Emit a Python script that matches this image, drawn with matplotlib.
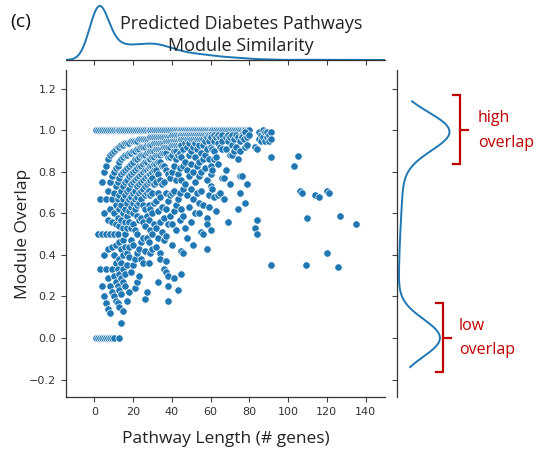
import numpy as np
import matplotlib
matplotlib.use("Agg")
import matplotlib.pyplot as plt
import matplotlib.transforms as mtransforms
import seaborn as sns

# modules with overlap exactly 1.0 -- pathway length and how many modules share it
full_overlap_x = [1, 2, 3, 4, 5, 6, 7, 8, 9, 10, 11, 12, 13, 14, 15, 16, 17, 18, 19, 20,
                  21, 22, 23, 24, 25, 26, 27, 28, 29, 30, 31, 32, 33, 34, 35, 36, 37, 38, 39, 40,
                  41, 42, 43, 44, 45, 46, 47, 48, 49, 50, 51, 52, 53, 54, 55, 56, 57, 58, 59, 60,
                  61, 62, 63, 64, 65, 66, 67, 68, 69, 70, 71, 72, 73, 74, 75, 76, 77, 78, 79, 80]
full_overlap_n = [60, 50, 40, 30, 20, 28, 28, 27, 27, 27, 26, 26, 26, 26, 26, 26, 26, 26, 26, 26,
                  27, 27, 28, 28, 29, 30, 31, 32, 32, 33, 33, 32, 32, 31, 30, 29, 27, 25, 23, 21,
                  19, 18, 17, 16, 15, 14, 13, 12, 12, 11, 11, 10, 10, 9, 9, 8, 8, 8, 7, 7,
                  6, 6, 6, 5, 5, 5, 5, 4, 4, 4, 4, 4, 3, 3, 3, 3, 2, 2, 2, 2]

# modules with no overlap at all
zero_overlap_x = [1, 2, 3, 4, 5, 6, 7, 8, 9, 10, 13]
zero_overlap_n = [450, 380, 250, 130, 60, 30, 20, 12, 10, 8, 10]

# (pathway length, module overlap)
short_paths = [
    (2, .50),
    (3, .33), (3, .67),
    (4, .25), (4, .50), (4, .75),
    (5, .20), (5, .40), (5, .60), (5, .80),
    (6, .17), (6, .33), (6, .50), (6, .67), (6, .83),
    (7, .14), (7, .29), (7, .43), (7, .57), (7, .71), (7, .86),
    (8, .12), (8, .25), (8, .50), (8, .62), (8, .75), (8, .88),
    (9, .22), (9, .33), (9, .44), (9, .56), (9, .67), (9, .78), (9, .89),
    (10, .20), (10, .30), (10, .40), (10, .50), (10, .60), (10, .70), (10, .80), (10, .90),
    (11, .18), (11, .27), (11, .36), (11, .45), (11, .55), (11, .64), (11, .73), (11, .82), (11, .91),
    (12, .17), (12, .25), (12, .33), (12, .50), (12, .58), (12, .67), (12, .75), (12, .83), (12, .92),
    (13, .15), (13, .23), (13, .31), (13, .38), (13, .46), (13, .54), (13, .62), (13, .69), (13, .77),
    (13, .85), (13, .92),
    (14, .07), (14, .21), (14, .29), (14, .36), (14, .43), (14, .57), (14, .64), (14, .71), (14, .79),
    (14, .86), (14, .93),
    (15, .13), (15, .27), (15, .33), (15, .40), (15, .47), (15, .53), (15, .60), (15, .67), (15, .73),
    (15, .80), (15, .87), (15, .93),
]

mid_paths = [
    (16, .94), (16, .88), (16, .81), (16, .75), (16, .69), (16, .62), (16, .56), (16, .50), (16, .44),
    (16, .31), (16, .25),
    (17, .94), (17, .88), (17, .82), (17, .76), (17, .71), (17, .65), (17, .59), (17, .53), (17, .41),
    (17, .35), (17, .18),
    (18, .94), (18, .89), (18, .83), (18, .78), (18, .72), (18, .67), (18, .61), (18, .56), (18, .44),
    (18, .39), (18, .22),
    (19, .95), (19, .89), (19, .84), (19, .79), (19, .74), (19, .68), (19, .63), (19, .53), (19, .47),
    (19, .32),
    (20, .95), (20, .90), (20, .85), (20, .80), (20, .75), (20, .70), (20, .65), (20, .60), (20, .55),
    (20, .45), (20, .35),
    (21, .95), (21, .90), (21, .86), (21, .81), (21, .76), (21, .71), (21, .67), (21, .62), (21, .52),
    (21, .38), (21, .24),
    (22, .95), (22, .91), (22, .86), (22, .82), (22, .77), (22, .73), (22, .68), (22, .64), (22, .59),
    (22, .50), (22, .41), (22, .27),
    (23, .96), (23, .91), (23, .87), (23, .83), (23, .78), (23, .74), (23, .70), (23, .65), (23, .57),
    (23, .43), (23, .30),
    (24, .96), (24, .92), (24, .88), (24, .83), (24, .79), (24, .75), (24, .71), (24, .67), (24, .58),
    (24, .46), (24, .38),
    (25, .96), (25, .92), (25, .88), (25, .84), (25, .80), (25, .76), (25, .72), (25, .64), (25, .56),
    (25, .48), (25, .36),
    (26, .96), (26, .92), (26, .88), (26, .85), (26, .81), (26, .77), (26, .73), (26, .69), (26, .62),
    (26, .54), (26, .42), (26, .19),
    (27, .96), (27, .93), (27, .89), (27, .85), (27, .81), (27, .78), (27, .74), (27, .70), (27, .59),
    (27, .48), (27, .22),
    (28, .96), (28, .93), (28, .89), (28, .86), (28, .82), (28, .79), (28, .75), (28, .71), (28, .64),
    (28, .57), (28, .46), (28, .36),
    (29, .97), (29, .93), (29, .90), (29, .86), (29, .83), (29, .79), (29, .76), (29, .69), (29, .62),
    (29, .52), (29, .41),
    (30, .97), (30, .93), (30, .90), (30, .87), (30, .83), (30, .80), (30, .77), (30, .70), (30, .60),
    (30, .50), (30, .43),
    (31, .97), (31, .94), (31, .90), (31, .87), (31, .84), (31, .81), (31, .74), (31, .65), (31, .55),
    (32, .97), (32, .94), (32, .91), (32, .88), (32, .84), (32, .81), (32, .75), (32, .66), (32, .53),
    (32, .44),
    (33, .97), (33, .94), (33, .91), (33, .88), (33, .85), (33, .79), (33, .70), (33, .61), (33, .48),
    (33, .27),
    (34, .97), (34, .94), (34, .91), (34, .88), (34, .85), (34, .76), (34, .68), (34, .56), (34, .41),
    (34, .38),
    (35, .97), (35, .94), (35, .91), (35, .89), (35, .83), (35, .74), (35, .63), (35, .51),
    (36, .97), (36, .94), (36, .92), (36, .89), (36, .83), (36, .75), (36, .58), (36, .47), (36, .33),
    (37, .97), (37, .95), (37, .92), (37, .89), (37, .81), (37, .70), (37, .62), (37, .49), (37, .37),
    (37, .32),
    (38, .97), (38, .95), (38, .92), (38, .87), (38, .79), (38, .66), (38, .55), (38, .30), (38, .25),
    (38, .18),
    (39, .97), (39, .95), (39, .92), (39, .87), (39, .77), (39, .69), (39, .59),
    (40, .98), (40, .95), (40, .93), (40, .88), (40, .80), (40, .70), (40, .55), (40, .45),
]

long_paths = [
    (41, .98), (41, .95), (41, .93), (41, .90), (41, .83), (41, .71), (41, .61), (41, .29),
    (42, .98), (42, .95), (42, .93), (42, .90), (42, .86), (42, .76), (42, .64), (42, .52),
    (43, .98), (43, .95), (43, .93), (43, .88), (43, .79), (43, .67), (43, .23),
    (44, .98), (44, .95), (44, .93), (44, .89), (44, .82), (44, .70), (44, .57),
    (45, .98), (45, .96), (45, .93), (45, .87), (45, .76), (45, .62), (45, .42), (45, .31),
    (46, .98), (46, .96), (46, .91), (46, .83), (46, .72), (46, .59), (46, .41),
    (47, .98), (47, .96), (47, .94), (47, .85), (47, .74), (47, .53),
    (48, .98), (48, .96), (48, .92), (48, .81), (48, .69), (48, .48),
    (49, .98), (49, .96), (49, .94), (49, .88), (49, .78), (49, .63),
    (50, .98), (50, .96), (50, .90), (50, .84), (50, .72), (50, .56),
    (51, .98), (51, .96), (51, .92), (51, .80), (51, .67), (51, .45),
    (52, .98), (52, .96), (52, .94), (52, .87), (52, .75), (52, .60),
    (53, .98), (53, .96), (53, .91), (53, .83), (53, .70),
    (54, .98), (54, .96), (54, .93), (54, .85), (54, .78), (54, .65), (54, .60),
    (55, .98), (55, .96), (55, .89), (55, .80), (55, .71), (55, .51),
    (56, .98), (56, .96), (56, .93), (56, .86), (56, .64), (56, .50),
    (57, .98), (57, .95), (57, .88), (57, .82),
    (58, .98), (58, .97), (58, .91), (58, .76), (58, .58), (58, .55), (58, .43),
    (59, .98), (59, .95), (59, .86), (59, .69), (59, .63),
    (60, .98), (60, .97), (60, .92), (60, .83), (60, .79), (60, .73), (60, .52),
    (61, .91), (61, .81), (61, .72),
    (62, .98), (62, .95), (62, .90), (62, .86), (62, .68),
    (63, .97), (63, .87), (63, .61),
    (64, .98), (64, .94), (64, .84), (64, .69),
    (65, .97), (65, .92), (65, .70),
    (66, .98), (66, .95), (66, .91), (66, .77),
    (67, .77), (67, .67),
    (68, .97), (68, .91), (68, .81),
    (69, .98), (69, .95), (69, .56),
    (70, .97), (70, .88), (70, .74),
    (71, .98), (71, .93), (71, .88),
    (72, .96), (72, .90),
    (73, .98), (73, .92),
    (74, .97), (74, .86), (74, .62),
    (75, .95), (75, .90), (75, .78), (75, .70),
    (76, .98), (76, .97), (76, .78),
    (77, .96),
    (78, .99), (78, .92), (78, .65),
    (79, .97), (79, .93), (79, .74),
    (80, .98),
    (83, .92), (83, .53),
    (84, .91), (84, .57), (84, .50),
    (85, .99), (85, .96),
    (86, .98), (86, .95),
    (87, 1.0), (87, .97),
    (88, .99), (88, .95),
    (89, .97), (89, .99),
    (90, .98), (90, .95),
    (91, .99), (91, .96), (91, .87), (91, .35),
]

outlier_paths = [
    (103, .83), (105, .875), (106, .71), (107, .70), (114, .69), (116, .68),
    (120, .71), (121, .70), (110, .58), (127, .59), (135, .55), (120, .41),
    (109, .35), (126, .34),
]

RED = "#c00000"
BLUE = "#1f77b4"

pairs = np.array(short_paths + mid_paths + long_paths + outlier_paths)
x = np.concatenate([full_overlap_x, zero_overlap_x, pairs[:, 0]])
y = np.concatenate([np.ones(len(full_overlap_x)), np.zeros(len(zero_overlap_x)), pairs[:, 1]])
w = np.concatenate([full_overlap_n, zero_overlap_n, np.ones(len(pairs))])

fig = plt.figure(figsize=(5.43, 4.49), dpi=100)
ax = fig.add_axes([0.1215, 0.1158, 0.5875, 0.728])
ax_top = fig.add_axes([0.1215, 0.8664, 0.5875, 0.1336], sharex=ax)
ax_right = fig.add_axes([0.731, 0.1158, 0.11, 0.728], sharey=ax)

ax.scatter(x, y, s=28, color=BLUE, edgecolor="white", linewidth=0.5, zorder=3)
ax.set_xlim(-14.6, 150)
ax.set_ylim(-0.284, 1.29)
ax.set_xticks([0, 20, 40, 60, 80, 100, 120, 140])
ax.set_yticks([-0.2, 0.0, 0.2, 0.4, 0.6, 0.8, 1.0, 1.2])

sns.kdeplot(x=x, weights=w, bw_method=0.22, ax=ax_top, color=BLUE, linewidth=1.4)
sns.kdeplot(y=y, weights=w, bw_method=0.19, ax=ax_right, color=BLUE, linewidth=1.4)

top_peak = ax_top.get_lines()[0].get_ydata().max()
ax_top.set_ylim(0, top_peak / 0.9)
right_peak = ax_right.get_lines()[0].get_xdata().max()
ax_right.set_xlim(0, right_peak / 0.88)

for a in (ax, ax_top, ax_right):
    for s in a.spines.values():
        s.set_visible(False)
    a.set_xlabel("")
    a.set_ylabel("")
    a.tick_params(length=3.5, width=0.8, color="#444444", labelsize=8, labelcolor="#333333")

ax.spines["left"].set_visible(True)
ax.spines["bottom"].set_visible(True)
ax_top.spines["bottom"].set_visible(True)
ax_right.spines["left"].set_visible(True)
for s in (ax.spines["left"], ax.spines["bottom"], ax_top.spines["bottom"], ax_right.spines["left"]):
    s.set_color("#333333")
    s.set_linewidth(0.9)

ax_top.tick_params(axis="x", labelbottom=False)
ax_top.tick_params(axis="y", left=False, labelleft=False)
ax_right.tick_params(axis="y", labelleft=False)
ax_right.tick_params(axis="x", bottom=False, labelbottom=False)

ax.set_xlabel("Pathway Length (# genes)", fontsize=12.5, family="Open Sans", color="#222222", labelpad=10)
ax.set_ylabel("Module Overlap", fontsize=12.5, family="Open Sans", color="#222222", labelpad=-1)

fig.text(0.444, 0.922, "Predicted Diabetes Pathways\nModule Similarity", ha="center", va="center",
         fontsize=13, family="Open Sans", color="#222222", linespacing=1.3)
fig.text(0.018, 0.951, "(c)", ha="left", va="center", fontsize=14, family="Open Sans", color="#111111")

# red brackets marking the two modes of the overlap density
tr = mtransforms.blended_transform_factory(fig.transFigure, ax_right.transData)
brackets = [
    (460 / 543, 1.17, 0.837, 1.0, ["high", "overlap"], 478 / 543),
    (443 / 543, 0.168, -0.163, 0.0, ["low", "overlap"], 459 / 543),
]
for bx, top, bot, mid, words, tx in brackets:
    end = 7 / 543
    ax_right.plot([bx - end, bx, bx, bx - end], [top, top, bot, bot], color=RED, lw=1.6,
                  transform=tr, clip_on=False, solid_joinstyle="miter")
    ax_right.plot([bx, bx + 8 / 543], [mid, mid], color=RED, lw=1.6, transform=tr, clip_on=False)
    ax_right.text(tx, mid + 0.06, words[0], transform=tr, color=RED, fontsize=11.5,
                  family="Open Sans", ha="left", va="center")
    ax_right.text(tx, mid - 0.06, words[1], transform=tr, color=RED, fontsize=11.5,
                  family="Open Sans", ha="left", va="center")

fig.savefig("out.png", dpi=100)
